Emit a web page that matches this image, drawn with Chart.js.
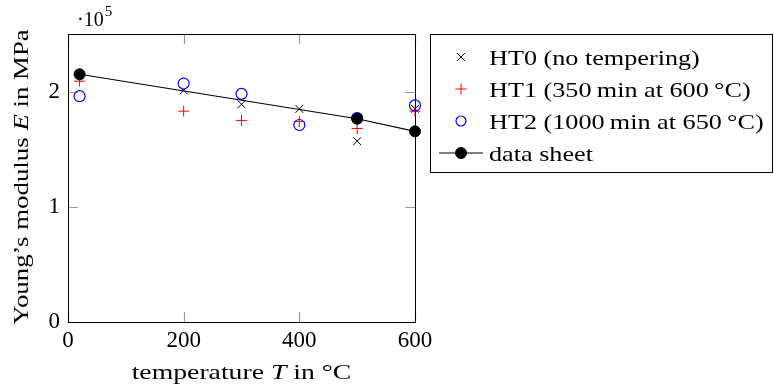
<!DOCTYPE html>
<html><head><meta charset="utf-8">
<script src="https://cdn.jsdelivr.net/npm/chart.js@4/dist/chart.umd.min.js"></script>
<style>html,body{margin:0;padding:0;background:#fff}#wrap{width:774px;height:386px;position:relative}</style>
</head><body><div id="wrap"><canvas id="c" width="774" height="386"></canvas></div>
<script>
// ---- data ----
const temps = [20, 200, 300, 400, 500, 600];
const ht0 = [215000, 201000, 189000, 185000, 157000, 185000];
const ht1 = [209000, 183000, 175000, 174000, 168000, 183000];
const ht2 = [196000, 207000, 198000, 171000, 177000, 188000];
const sheetTemps = [20, 500, 600];
const sheetValues = [215000, 176500, 165500];
const seriesLabels = ['HT0 (no tempering)', 'HT1 (350\u2009min at 600\u2009\u00B0C)', 'HT2 (1000\u2009min at 650\u2009\u00B0C)', 'data sheet'];
const xTickValues = [0, 200, 400, 600];
const yTickValues = [0, 100000, 200000];
const yScaleFactor = 100000;

const FONT = '"Liberation Serif", "DejaVu Serif", serif';
const pts = (xs, ys) => xs.map((x, i) => ({x: x, y: ys[i]}));

const decor = {
  id: 'decor',
  beforeDatasetsDraw(chart) {
    const ctx = chart.ctx, a = chart.chartArea;
    const xs = chart.scales.x, ys = chart.scales.y;
    ctx.save();
    ctx.strokeStyle = '#9a9a9a';
    ctx.lineWidth = 1.2;
    const L = 10;
    xTickValues.forEach(v => {
      const p = Math.round(xs.getPixelForValue(v)) + 0.5;
      ctx.beginPath();
      ctx.moveTo(p, a.bottom); ctx.lineTo(p, a.bottom - L);
      ctx.moveTo(p, a.top); ctx.lineTo(p, a.top + L);
      ctx.stroke();
    });
    yTickValues.forEach(v => {
      const p = Math.round(ys.getPixelForValue(v)) + 0.5;
      ctx.beginPath();
      ctx.moveTo(a.left, p); ctx.lineTo(a.left + L, p);
      ctx.moveTo(a.right, p); ctx.lineTo(a.right - L, p);
      ctx.stroke();
    });
    ctx.strokeStyle = '#000';
    ctx.lineWidth = 1;
    ctx.strokeRect(a.left + 0.5, a.top + 0.5, a.right - a.left, a.bottom - a.top);
    ctx.restore();
  },
  afterDraw(chart) {
    const ctx = chart.ctx, a = chart.chartArea;
    ctx.save();
    ctx.fillStyle = '#000';
    ctx.textBaseline = 'alphabetic';
    ctx.textAlign = 'left';
    // mixed-font text, horizontally stretched; anchor: 'center' or 'left'
    const drawMixed = (parts, x0, y0, anchor, sx) => {
      let total = 0;
      parts.forEach(p => { ctx.font = p[1]; total += ctx.measureText(p[0]).width; });
      ctx.save();
      ctx.translate(x0, y0);
      ctx.scale(sx, 1);
      let x = anchor === 'center' ? -total / 2 : 0;
      parts.forEach(p => { ctx.font = p[1]; ctx.fillText(p[0], x, 0); x += ctx.measureText(p[0]).width; });
      ctx.restore();
    };
    const rom = '22px ' + FONT, it = 'italic 22px ' + FONT;
    // x title
    drawMixed([['temperature ', rom], ['T', it], [' in \u00B0C', rom]], (a.left + a.right) / 2, 379, 'center', 1.26);
    // y title
    ctx.save();
    ctx.translate(28, (a.top + a.bottom) / 2 - 1);
    ctx.rotate(-Math.PI / 2);
    drawMixed([['Young\u2019s modulus ', rom], ['E', it], [' in MPa', rom]], 0, 0, 'center', 1.22);
    ctx.restore();
    // exponent label
    ctx.font = '20px ' + FONT;
    ctx.fillText('\u00B710', a.left + 9, a.top - 8);
    const w = ctx.measureText('\u00B710').width;
    ctx.font = '15px ' + FONT;
    ctx.fillText('5', a.left + 9 + w + 1, a.top - 18);
    // legend
    const bx = 430.5, by = 34.5, bw = 342, bh = 138;
    ctx.strokeStyle = '#000';
    ctx.lineWidth = 1;
    ctx.strokeRect(bx, by, bw, bh);
    const ds = chart.data.datasets;
    ds.forEach((d, i) => {
      const cy = 57 + 32 * i;
      const mx = 461;
      if (d.showLine) {
        ctx.strokeStyle = d.borderColor;
        ctx.lineWidth = d.borderWidth;
        ctx.beginPath(); ctx.moveTo(439, cy); ctx.lineTo(483, cy); ctx.stroke();
      }
      ctx.strokeStyle = d.pointBorderColor || d.borderColor;
      ctx.fillStyle = d.pointBackgroundColor || d.backgroundColor;
      ctx.lineWidth = d.pointBorderWidth || 1;
      Chart.helpers.drawPoint(ctx, {pointStyle: d.pointStyle, radius: d.legendRadius, rotation: 0, borderWidth: ctx.lineWidth}, mx, cy);
      ctx.fillStyle = '#000';
      drawMixed([[d.label, rom]], 489, cy + 7.5, 'left', 1.19);
    });
    ctx.restore();
  }
};

new Chart(document.getElementById('c'), {
  type: 'scatter',
  data: {
    datasets: [
      {label: seriesLabels[0], data: pts(temps, ht0), pointStyle: 'crossRot', pointRadius: 5.5, legendRadius: 5.5,
       borderColor: '#000', pointBorderColor: '#000', backgroundColor: 'rgba(0,0,0,0)', pointBorderWidth: 1, showLine: false, order: 3, clip: false},
      {label: seriesLabels[1], data: pts(temps, ht1), pointStyle: 'cross', pointRadius: 5.5, legendRadius: 5.5,
       borderColor: '#ff0000', pointBorderColor: '#ff0000', backgroundColor: 'rgba(0,0,0,0)', pointBorderWidth: 1, showLine: false, order: 2, clip: false},
      {label: seriesLabels[2], data: pts(temps, ht2), pointStyle: 'circle', pointRadius: 5.5, legendRadius: 5,
       borderColor: '#0000ff', pointBorderColor: '#0000ff', backgroundColor: 'rgba(0,0,0,0)', pointBorderWidth: 1.2, showLine: false, order: 1, clip: false},
      {label: seriesLabels[3], data: pts(sheetTemps, sheetValues), pointStyle: 'circle', pointRadius: 5.5, legendRadius: 5.5,
       borderColor: '#000', pointBorderColor: '#000', backgroundColor: '#000', pointBackgroundColor: '#000', pointBorderWidth: 1,
       borderWidth: 1.1, showLine: true, order: 0, clip: false}
    ]
  },
  options: {
    responsive: false,
    devicePixelRatio: 1,
    animation: false,
    layout: {padding: {top: 34, left: 0, right: 359, bottom: 0}},
    plugins: {legend: {display: false}, tooltip: {enabled: false}},
    scales: {
      x: {
        type: 'linear', min: 0, max: 600,
        afterFit: s => { s.height = 64; },
        afterBuildTicks: s => { s.ticks = xTickValues.map(v => ({value: v})); },
        grid: {display: false, drawTicks: false},
        border: {display: false},
        ticks: {font: {family: FONT, size: 23}, color: '#000', padding: 5, maxRotation: 0}
      },
      y: {
        type: 'linear', min: 0, max: 250000,
        afterFit: s => { s.width = 68; },
        afterBuildTicks: s => { s.ticks = yTickValues.map(v => ({value: v})); },
        grid: {display: false, drawTicks: false},
        border: {display: false},
        ticks: {font: {family: FONT, size: 23}, color: '#000', padding: 8,
                callback: v => String(v / yScaleFactor)}
      }
    }
  },
  plugins: [decor]
});
</script>
</body></html>
